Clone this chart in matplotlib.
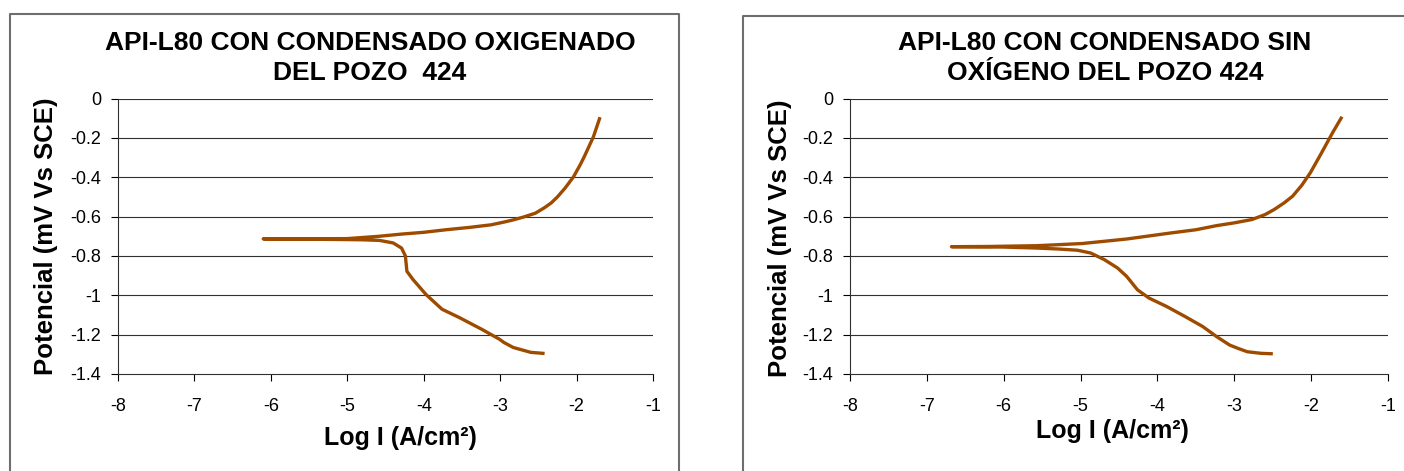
import matplotlib.pyplot as plt
from matplotlib.lines import Line2D

plt.rcParams['font.family'] = ['Liberation Sans', 'DejaVu Sans']

# left chart: condensate with oxygen (scan from cathodic end to anodic end)
left_logi = [-2.44, -2.60, -2.83, -2.95, -3.01, -3.24, -3.53, -3.76, -3.97, -4.14,
             -4.22, -4.24, -4.29, -4.40, -4.58, -4.80, -5.20, -5.60, -6.10,
             -5.60, -5.00, -4.58, -4.29, -4.00, -3.71, -3.40, -3.12, -2.95, -2.83,
             -2.70, -2.54, -2.42, -2.33, -2.25, -2.15, -2.04, -1.95, -1.90, -1.78, -1.70]
left_e = [-1.295, -1.290, -1.265, -1.240, -1.223, -1.173, -1.114, -1.071, -0.996, -0.920,
          -0.878, -0.800, -0.760, -0.734, -0.721, -0.718, -0.716, -0.715, -0.713,
          -0.713, -0.712, -0.700, -0.689, -0.680, -0.667, -0.655, -0.642, -0.628, -0.617,
          -0.603, -0.583, -0.555, -0.530, -0.500, -0.455, -0.398, -0.335, -0.296, -0.195, -0.103]

# right chart: condensate without oxygen
right_logi = [-2.52, -2.65, -2.83, -2.95, -3.06, -3.23, -3.41, -3.64, -3.88, -4.11, -4.26,
              -4.40, -4.52, -4.69, -4.87, -5.04, -5.28, -5.57, -6.00, -6.68,
              -6.20, -5.57, -4.98, -4.40, -3.82, -3.50, -3.23, -3.00, -2.77, -2.60,
              -2.48, -2.35, -2.24, -2.12, -2.01, -1.87, -1.72, -1.61]
right_e = [-1.297, -1.295, -1.287, -1.270, -1.253, -1.210, -1.159, -1.108, -1.057, -1.014, -0.972,
           -0.904, -0.861, -0.819, -0.785, -0.771, -0.765, -0.760, -0.755, -0.753,
           -0.752, -0.748, -0.737, -0.714, -0.683, -0.667, -0.646, -0.632, -0.615, -0.590,
           -0.564, -0.530, -0.496, -0.440, -0.377, -0.280, -0.173, -0.100]

titles = ['API-L80 CON CONDENSADO OXIGENADO\nDEL POZO  424',
          'API-L80 CON CONDENSADO SIN\nOXÍGENO DEL POZO 424']
xticks = [-8, -7, -6, -5, -4, -3, -2, -1]
yticks = [0, -0.2, -0.4, -0.6, -0.8, -1, -1.2, -1.4]
ylabel = 'Potencial (mV Vs SCE)'
xlabel = 'Log I (A/cm²)'

W, H = 1404, 471
fig = plt.figure(figsize=(W / 100, H / 100), dpi=100)
fig.patch.set_facecolor('white')

def fx(px):
    return px / W

def fy(py):
    return 1 - py / H

# panel borders (bottom and far right cut off by the image edge)
border = '#6e6e6e'
for x0, x1, top in [(10, 679, 14), (743, 1410, 16)]:
    fig.add_artist(Line2D([fx(x0), fx(x0), fx(x1), fx(x1)], [fy(480), fy(top), fy(top), fy(480)],
                          transform=fig.transFigure, color=border, lw=1.5))

panels = [
    dict(rect=[fx(118), fy(374), fx(653) - fx(118), fy(98.5) - fy(374)],
         x=left_logi, y=left_e, title=titles[0], tx=370,
         xl=(0.527, -0.232), yl=(-0.134, 0.50)),
    dict(rect=[fx(850), fy(374), fx(1388) - fx(850), fy(98.5) - fy(374)],
         x=right_logi, y=right_e, title=titles[1], tx=1105,
         xl=(0.487, -0.207), yl=(-0.130, 0.493)),
]

for p in panels:
    ax = fig.add_axes(p['rect'])
    ax.set_xlim(-8, -1)
    ax.set_ylim(-1.4, 0)
    ax.set_xticks(xticks)
    ax.set_yticks(yticks)
    ax.set_yticklabels(['0', '-0.2', '-0.4', '-0.6', '-0.8', '-1', '-1.2', '-1.4'])
    ax.set_xticklabels([str(v) for v in xticks])
    for yv in yticks[:-1]:
        ax.axhline(yv, color='#303030', lw=0.8, zorder=1)
    for s in ['top', 'right']:
        ax.spines[s].set_visible(False)
    for s in ['left', 'bottom']:
        ax.spines[s].set_color('#303030')
        ax.spines[s].set_linewidth(0.8)
    ax.tick_params(axis='y', direction='out', length=5, width=0.8, pad=7, labelsize=13)
    ax.tick_params(axis='x', direction='out', length=5, width=0.8, pad=12, labelsize=13)
    ax.plot(p['x'], p['y'], color='#9e4b00', lw=2.4, solid_joinstyle='round', zorder=3)
    ax.text(p['xl'][0], p['xl'][1], xlabel, transform=ax.transAxes, ha='center', va='center',
            fontsize=18, fontweight='bold')
    ax.text(p['yl'][0], p['yl'][1], ylabel, transform=ax.transAxes, ha='center', va='center',
            rotation=90, fontsize=18.5, fontweight='bold')
    fig.text(fx(p['tx']), fy(58), p['title'], ha='center', va='center', fontsize=19,
             fontweight='bold', linespacing=1.27)

fig.savefig('out.png', dpi=100, facecolor='white')
